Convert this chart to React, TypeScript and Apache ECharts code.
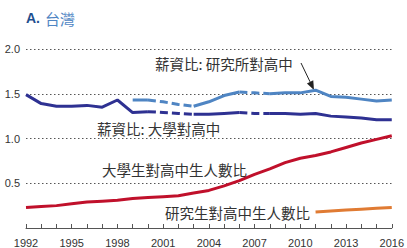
import React, { useEffect, useRef } from "react";
import * as echarts from "echarts";

const years = [
  "1992", "1993", "1994", "1995", "1996", "1997", "1998", "1999", "2000",
  "2001", "2002", "2003", "2004", "2005", "2006", "2007", "2008", "2009",
  "2010", "2011", "2012", "2013", "2014", "2015", "2016",
];

// 薪資比: 大學對高中
const wageUnivHS = [
  1.49, 1.39, 1.36, 1.36, 1.37, 1.35, 1.43, 1.29, 1.3,
  1.29, 1.28, 1.27, 1.27, 1.28, 1.29, 1.28, 1.28, 1.28,
  1.27, 1.28, 1.25, 1.24, 1.23, 1.21, 1.21,
];

// 薪資比: 研究所對高中
const wageGradHS = [
  null, null, null, null, null, null, null, 1.43, 1.43,
  1.41, 1.38, 1.36, 1.41, 1.48, 1.52, 1.51, 1.5, 1.51,
  1.51, 1.54, 1.47, 1.46, 1.44, 1.42, 1.43,
];

// 大學生對高中生人數比
const ratioUnivHS = [
  0.23, 0.24, 0.25, 0.27, 0.29, 0.3, 0.31, 0.33, 0.34,
  0.35, 0.36, 0.39, 0.42, 0.47, 0.53, 0.6, 0.66, 0.73,
  0.78, 0.81, 0.85, 0.9, 0.95, 0.99, 1.03,
];

// 研究生對高中生人數比
const ratioGradHS = [
  null, null, null, null, null, null, null, null, null,
  null, null, null, null, null, null, null, null, null,
  null, 0.18, 0.19, 0.2, 0.21, 0.22, 0.23,
];

// years drawn with dashed segments (estimated)
const dashedYears = ["2001", "2002", "2007"];

const yTicks = [0, 0.5, 1.0, 1.5, 2.0];

function solidPart(vals: (number | null)[]) {
  return vals.map((v, i) => (dashedYears.includes(years[i]) ? null : v));
}
function dashedPart(vals: (number | null)[]) {
  return vals.map((v, i) => {
    const here = dashedYears.includes(years[i]);
    const prev = i > 0 && dashedYears.includes(years[i - 1]);
    const next = i < years.length - 1 && dashedYears.includes(years[i + 1]);
    return here || prev || next ? v : null;
  });
}

const NAVY = "#2e3192";
const LIGHT = "#4f85c3";
const RED = "#c0102b";
const ORANGE = "#e07b33";
const TXT = "#333333";
const CJK = "'Noto Sans CJK TC', 'Noto Sans', sans-serif";
const NUM = "'Liberation Sans Narrow', 'Liberation Sans', Arial, sans-serif";

export default function App() {
  const ref = useRef<HTMLDivElement>(null);
  useEffect(() => {
    if (!ref.current) return;
    const chart = echarts.init(ref.current, undefined, { renderer: "svg" });
    const lineBase = (name: string, data: (number | null)[], color: string, dashed: boolean) => ({
      type: "line",
      name,
      data,
      symbol: "none",
      connectNulls: false,
      smooth: false,
      lineStyle: { color, width: 3, type: dashed ? [8, 4] : "solid", cap: "butt" },
      z: 3,
    });

    // arrow geometry (annotation)
    const tip = [314, 90];
    const start = [301, 63];
    const dx = tip[0] - start[0];
    const dy = tip[1] - start[1];
    const len = Math.sqrt(dx * dx + dy * dy);
    const ux = dx / len;
    const uy = dy / len;
    const hl = 9;
    const hw = 3.5;
    const bx = tip[0] - hl * ux;
    const by = tip[1] - hl * uy;

    chart.setOption({
      animation: false,
      title: {
        left: 21,
        top: 4,
        text: "{a|A.} {b|台灣}",
        textStyle: {
          fontWeight: "normal",
          rich: {
            a: { fontFamily: "'Liberation Sans', Arial, sans-serif", fontWeight: "bold", fontSize: 14, color: "#1f4f8f" },
            b: { fontFamily: CJK, fontWeight: "normal", fontSize: 15, color: "#4f85c3" },
          },
        },
      },
      grid: { left: 26, right: 12, top: 49, bottom: 19, containLabel: false },
      xAxis: {
        type: "category",
        data: years,
        boundaryGap: false,
        axisLine: { show: true, lineStyle: { color: "#555", width: 1 } },
        axisTick: { show: true, inside: true, length: 4, interval: 0, lineStyle: { color: "#555" } },
        axisLabel: {
          interval: 2,
          color: TXT,
          fontFamily: NUM,
          fontSize: 11,
          margin: 9,
        },
        splitLine: { show: false },
      },
      yAxis: {
        type: "value",
        min: yTicks[0],
        max: yTicks[yTicks.length - 1],
        interval: 0.5,
        axisLine: { show: false },
        axisTick: { show: false },
        axisLabel: {
          color: TXT,
          fontFamily: NUM,
          fontSize: 11,
          margin: 6,
          formatter: (v: number) => (v === 0 ? "" : v.toFixed(1)),
        },
        splitLine: {
          show: true,
          lineStyle: { color: "#555", type: [1.5, 2.5], width: 1 },
        },
      },
      series: [
        lineBase("薪資比: 大學對高中", solidPart(wageUnivHS), NAVY, false),
        lineBase("薪資比: 大學對高中 (dashed)", dashedPart(wageUnivHS), NAVY, true),
        lineBase("薪資比: 研究所對高中", solidPart(wageGradHS), LIGHT, false),
        lineBase("薪資比: 研究所對高中 (dashed)", dashedPart(wageGradHS), LIGHT, true),
        lineBase("大學生對高中生人數比", ratioUnivHS, RED, false),
        lineBase("研究生對高中生人數比", ratioGradHS, ORANGE, false),
      ],
      graphic: [
        {
          type: "text",
          left: 155,
          top: 56,
          style: { text: "薪資比: 研究所對高中", fill: TXT, font: `14.5px ${CJK}` },
        },
        {
          type: "text",
          left: 97,
          top: 121,
          style: { text: "薪資比: 大學對高中", fill: TXT, font: `14.5px ${CJK}` },
        },
        {
          type: "text",
          left: 102,
          top: 162,
          style: { text: "大學生對高中生人數比", fill: TXT, font: `14.5px ${CJK}` },
        },
        {
          type: "text",
          left: 165,
          top: 205,
          style: { text: "研究生對高中生人數比", fill: TXT, font: `14.5px ${CJK}` },
        },
        {
          type: "line",
          shape: { x1: start[0], y1: start[1], x2: bx, y2: by },
          style: { stroke: "#222", lineWidth: 1 },
        },
        {
          type: "polygon",
          shape: {
            points: [
              [tip[0], tip[1]],
              [bx - hw * uy, by + hw * ux],
              [bx + hw * uy, by - hw * ux],
            ],
          },
          style: { fill: "#222" },
        },
      ],
    });
    return () => chart.dispose();
  }, []);
  return (
    <div
      ref={ref}
      style={{ position: "fixed", left: 0, top: 0, width: 407, height: 248, background: "#fff" }}
    />
  );
}
